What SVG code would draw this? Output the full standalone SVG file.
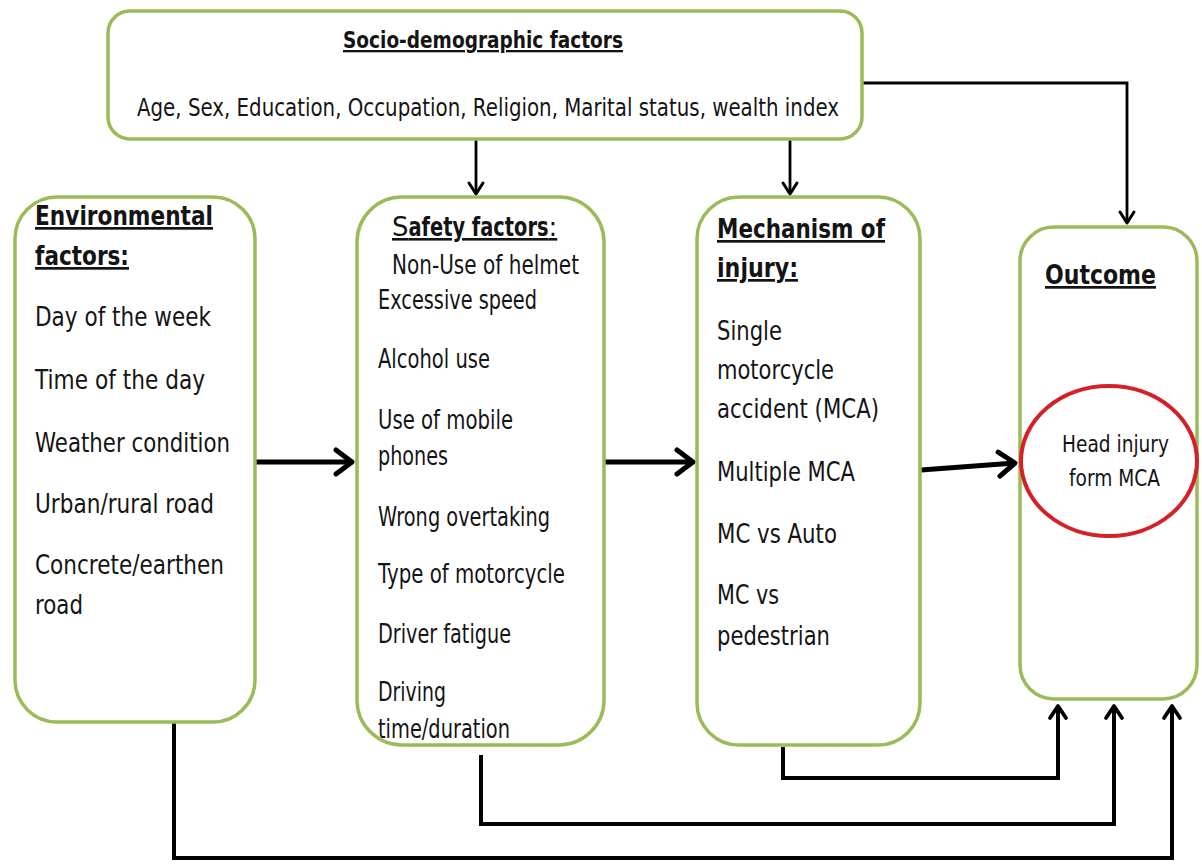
<svg xmlns="http://www.w3.org/2000/svg" width="1202" height="864" viewBox="0 0 1202 864">
<defs>
<style>
.box{fill:#fff;stroke:#9bbb59;stroke-width:3.5}
text{font-family:"DejaVu Sans","Liberation Sans",sans-serif;fill:#141414}
.b{font-size:27px}
.s{font-size:26px}
.h{font-size:27px;font-weight:bold;text-decoration:underline}
.top{font-size:24px}
.ttl{font-size:23px;font-weight:bold;text-decoration:underline}
.oc{font-size:23px}
.cn{fill:none;stroke:#000;stroke-linejoin:miter}
.thin{stroke-width:2.8}
.thick{stroke-width:5}
.mid{stroke-width:4}
</style>
<marker id="aS" markerUnits="userSpaceOnUse" markerWidth="30" markerHeight="30" viewBox="-15 -15 30 30" refX="0" refY="0" orient="auto">
<path d="M-11,-7 L0,0 L-11,7" fill="none" stroke="#000" stroke-width="3" stroke-linejoin="round" stroke-linecap="round"/>
</marker>
<marker id="aB" markerUnits="userSpaceOnUse" markerWidth="40" markerHeight="40" viewBox="-20 -20 40 40" refX="0" refY="0" orient="auto">
<path d="M-16,-12 L0,0 L-16,12" fill="none" stroke="#000" stroke-width="5" stroke-linejoin="round" stroke-linecap="round"/>
</marker>
<marker id="aM" markerUnits="userSpaceOnUse" markerWidth="30" markerHeight="30" viewBox="-15 -15 30 30" refX="0" refY="0" orient="auto">
<path d="M-12,-8 L0,0 L-12,8" fill="none" stroke="#000" stroke-width="3.8" stroke-linejoin="round" stroke-linecap="round"/>
</marker>
</defs>
<rect width="1202" height="864" fill="#fff"/>

<g id="connectors">
<path class="cn thin" d="M476,140 L476,194" marker-end="url(#aS)"/>
<path class="cn thin" d="M790,140 L790,194" marker-end="url(#aS)"/>
<path class="cn thin" d="M862,83 L1127,83 L1127,223" marker-end="url(#aS)"/>
<path class="cn thick" d="M250,462 L352,462" marker-end="url(#aB)"/>
<path class="cn thick" d="M604,462 L693,462" marker-end="url(#aB)"/>
<path class="cn thick" d="M921,470 L1015,463" marker-end="url(#aB)"/>
<path class="cn mid" d="M783,747 L783,778 L1058,778 L1058,706" marker-end="url(#aM)"/>
<path class="cn mid" d="M481,755 L481,824 L1114,824 L1114,706" marker-end="url(#aM)"/>
<path class="cn mid" d="M174,722 L174,858 L1172,858 L1172,706" marker-end="url(#aM)"/>
</g>

<g id="socio">
<rect class="box" x="108" y="11" width="754" height="128" rx="22"/>
<text class="ttl" x="343" y="48" textLength="280" lengthAdjust="spacingAndGlyphs">Socio-demographic factors</text>
<text class="top" x="137" y="116" textLength="702" lengthAdjust="spacingAndGlyphs">Age, Sex, Education, Occupation, Religion, Marital status, wealth index</text>
</g>

<g id="environmental">
<rect class="box" x="15" y="197" width="240" height="525" rx="42"/>
<text class="h" x="35" y="225" textLength="178" lengthAdjust="spacingAndGlyphs">Environmental</text>
<text class="h" x="35" y="265" textLength="94" lengthAdjust="spacingAndGlyphs">factors:</text>
<text class="b" x="35" y="326" textLength="176" lengthAdjust="spacingAndGlyphs">Day of the week</text>
<text class="b" x="35" y="389" textLength="170" lengthAdjust="spacingAndGlyphs">Time of the day</text>
<text class="b" x="35" y="452" textLength="195" lengthAdjust="spacingAndGlyphs">Weather condition</text>
<text class="b" x="35" y="513" textLength="179" lengthAdjust="spacingAndGlyphs">Urban/rural road</text>
<text class="b" x="35" y="574" textLength="189" lengthAdjust="spacingAndGlyphs">Concrete/earthen</text>
<text class="b" x="35" y="614" textLength="48" lengthAdjust="spacingAndGlyphs">road</text>
</g>

<g id="safety">
<rect class="box" x="357" y="197" width="247" height="548" rx="45"/>
<text class="s" x="392" y="236" text-decoration="underline"><tspan>S</tspan><tspan font-weight="bold" textLength="140" lengthAdjust="spacingAndGlyphs">afety factors</tspan><tspan>:</tspan></text>
<text class="s" x="392" y="274" textLength="187" lengthAdjust="spacingAndGlyphs">Non-Use of helmet</text>
<text class="s" x="378" y="309" textLength="159" lengthAdjust="spacingAndGlyphs">Excessive speed</text>
<text class="s" x="378" y="368" textLength="112" lengthAdjust="spacingAndGlyphs">Alcohol use</text>
<text class="s" x="378" y="429" textLength="135" lengthAdjust="spacingAndGlyphs">Use of mobile</text>
<text class="s" x="378" y="465" textLength="70" lengthAdjust="spacingAndGlyphs">phones</text>
<text class="s" x="378" y="526" textLength="172" lengthAdjust="spacingAndGlyphs">Wrong overtaking</text>
<text class="s" x="378" y="583" textLength="187" lengthAdjust="spacingAndGlyphs">Type of motorcycle</text>
<text class="s" x="378" y="643" textLength="133" lengthAdjust="spacingAndGlyphs">Driver fatigue</text>
<text class="s" x="378" y="701" textLength="68" lengthAdjust="spacingAndGlyphs">Driving</text>
<text class="s" x="378" y="738" textLength="132" lengthAdjust="spacingAndGlyphs">time/duration</text>
</g>

<g id="mechanism">
<rect class="box" x="697" y="197" width="223" height="548" rx="42"/>
<text class="h" x="717" y="238" textLength="168" lengthAdjust="spacingAndGlyphs">Mechanism of</text>
<text class="h" x="717" y="277" textLength="81" lengthAdjust="spacingAndGlyphs">injury:</text>
<text class="b" x="717" y="340" textLength="65" lengthAdjust="spacingAndGlyphs">Single</text>
<text class="b" x="717" y="379" textLength="117" lengthAdjust="spacingAndGlyphs">motorcycle</text>
<text class="b" x="717" y="418" textLength="162" lengthAdjust="spacingAndGlyphs">accident (MCA)</text>
<text class="b" x="717" y="481" textLength="138" lengthAdjust="spacingAndGlyphs">Multiple MCA</text>
<text class="b" x="717" y="543" textLength="120" lengthAdjust="spacingAndGlyphs">MC vs Auto</text>
<text class="b" x="717" y="604" textLength="62" lengthAdjust="spacingAndGlyphs">MC vs</text>
<text class="b" x="717" y="645" textLength="113" lengthAdjust="spacingAndGlyphs">pedestrian</text>
</g>

<g id="outcome">
<rect class="box" x="1020" y="227" width="177" height="472" rx="34"/>
<text class="h" x="1045" y="284" textLength="111" lengthAdjust="spacingAndGlyphs">Outcome</text>
<ellipse cx="1109" cy="461" rx="88" ry="75" fill="none" stroke="#d42027" stroke-width="4"/>
<text class="oc" x="1062" y="452" textLength="107" lengthAdjust="spacingAndGlyphs">Head injury</text>
<text class="oc" x="1069" y="486" textLength="91" lengthAdjust="spacingAndGlyphs">form MCA</text>
</g>
</svg>
